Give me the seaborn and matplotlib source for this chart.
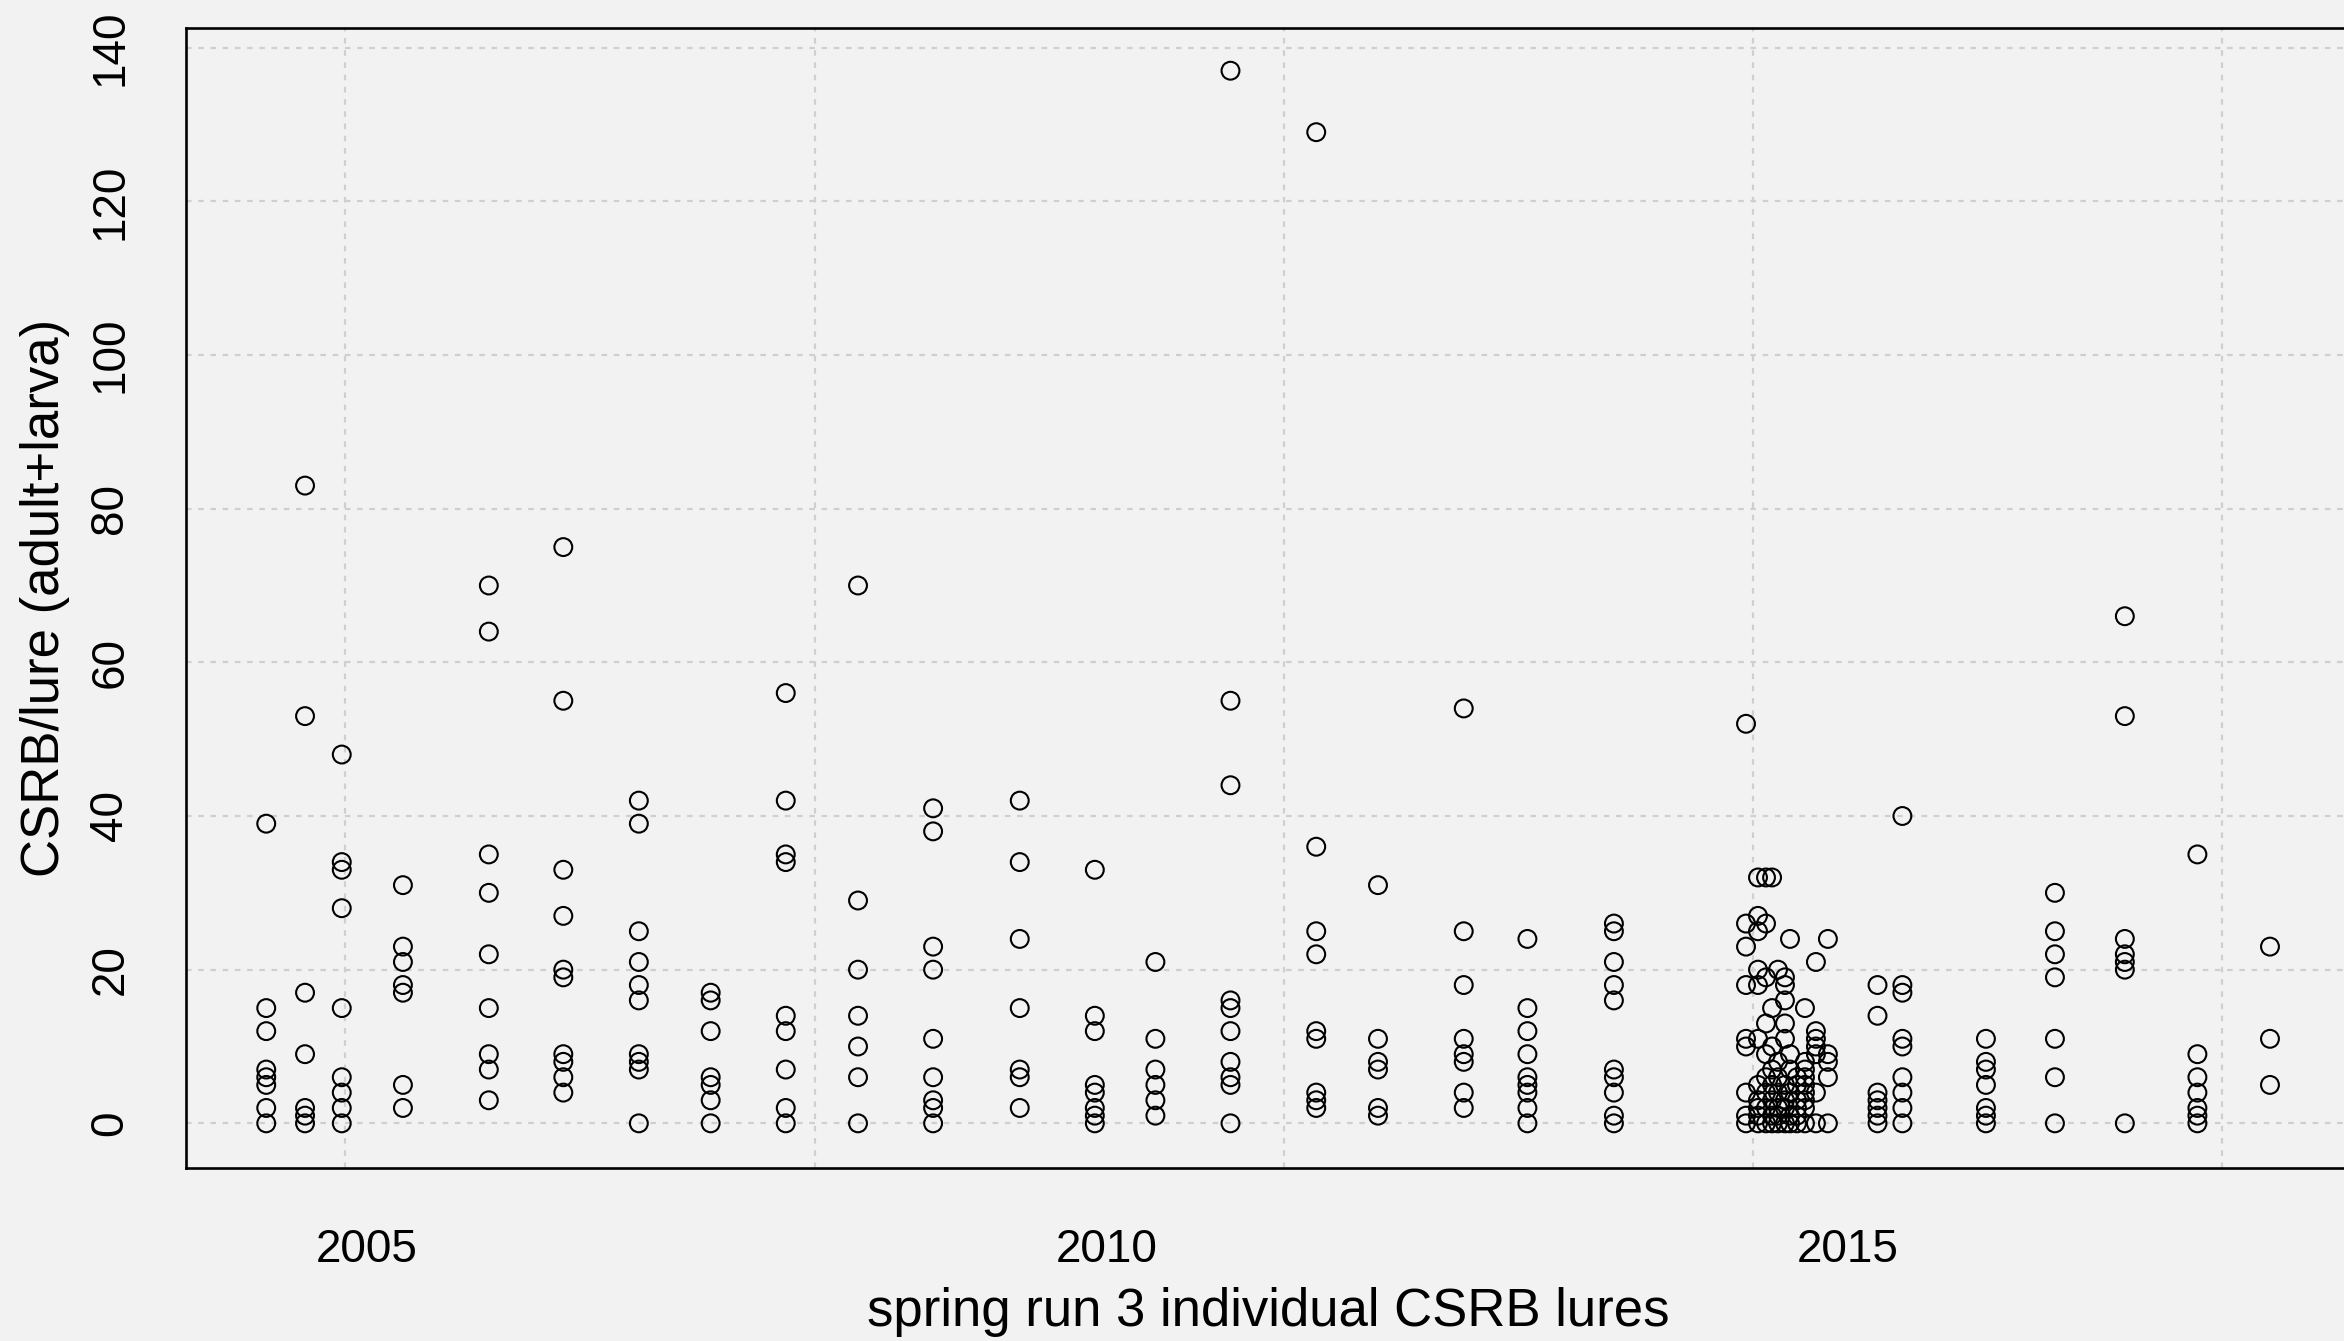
import matplotlib
matplotlib.use("Agg")
import pandas as pd
import matplotlib.pyplot as plt
import seaborn as sns

# --- DATA: sampling dates (decimal year) and CSRB counts per individual lure ---
sample_dates = [
    2004.323, 2004.585, 2004.833, 2005.246, 2005.826, 2006.329, 2006.839,
    2007.324, 2007.831, 2008.319, 2008.826, 2009.411, 2009.918, 2010.327,
    2010.834, 2011.413, 2011.830, 2012.409, 2012.839, 2013.423,
    2014.315, 2014.396, 2014.450, 2014.491, 2014.531, 2014.578, 2014.612,
    2014.659, 2014.713, 2014.787, 2014.868,
    2015.203, 2015.371, 2015.935, 2016.401, 2016.873, 2017.363, 2017.853,
]
lure_counts = [
    [39, 15, 12, 7, 6, 5, 2, 0],
    [83, 53, 17, 9, 2, 1, 0],
    [48, 34, 33, 28, 15, 6, 4, 2, 0],
    [31, 23, 21, 18, 17, 5, 2],
    [70, 64, 35, 30, 22, 15, 9, 7, 3],
    [75, 55, 33, 27, 20, 19, 9, 8, 6, 4],
    [42, 39, 25, 21, 18, 16, 9, 8, 7, 0],
    [17, 16, 12, 6, 5, 3, 0],
    [56, 42, 35, 34, 14, 12, 7, 2, 0],
    [70, 29, 20, 14, 10, 6, 0],
    [41, 38, 23, 20, 11, 6, 3, 2, 0],
    [42, 34, 24, 15, 7, 6, 2],
    [33, 14, 12, 5, 4, 2, 1, 0],
    [21, 11, 7, 5, 3, 1],
    [137, 55, 44, 16, 15, 12, 8, 6, 5, 0],
    [129, 36, 25, 22, 12, 11, 4, 3, 2],
    [31, 11, 8, 7, 2, 1],
    [54, 25, 18, 11, 9, 8, 4, 2],
    [24, 15, 12, 9, 6, 5, 4, 2, 0],
    [26, 25, 21, 18, 16, 7, 6, 4, 1, 0],
    # 2014 weekly run
    [52, 26, 23, 18, 11, 10, 4, 1, 0],
    [32, 27, 25, 20, 18, 11, 5, 3, 2, 1, 0],
    [32, 26, 19, 13, 9, 6, 4, 2, 0],
    [32, 15, 10, 7, 5, 3, 1, 0],
    [20, 8, 6, 4, 2, 1, 0],
    [19, 18, 16, 13, 11, 5, 3, 2, 0],
    [24, 9, 7, 4, 1, 0],
    [6, 5, 3, 2, 1, 0],
    [15, 8, 7, 6, 5, 4, 3, 2, 0],
    [21, 12, 11, 10, 9, 4, 0],
    [24, 9, 8, 6, 0],
    # after 2014
    [18, 14, 4, 3, 2, 1, 0],
    [40, 18, 17, 11, 10, 6, 4, 2, 0],
    [11, 8, 7, 5, 2, 1, 0],
    [30, 25, 22, 19, 11, 6, 0],
    [66, 53, 24, 22, 21, 20, 0],
    [35, 9, 6, 4, 2, 1, 0],
    [23, 11, 5],
]

x_ticks = [2005, 2010, 2015]
y_ticks = [0, 20, 40, 60, 80, 100, 120, 140]

rows = [(d, c) for d, counts in zip(sample_dates, lure_counts) for c in counts]
df = pd.DataFrame(rows, columns=["date", "csrb"])

# --- STYLE (R base graphics look) ---
BG = "#f2f2f2"
sns.set_theme(style="white", rc={"axes.facecolor": BG, "figure.facecolor": BG})
plt.rcParams["font.family"] = ["Liberation Sans", "DejaVu Sans"]

fig = plt.figure(figsize=(23.44, 13.41), dpi=100)
ax = fig.add_axes([0.0794, 0.1292, 0.9232, 0.8497])

# grid: y at ticks, x at pretty() steps of 1e8 seconds (POSIXct axis)
sec_per_year = 365.25 * 86400
for k in range(11, 16):
    ax.axvline(1970 + k * 1e8 / sec_per_year, color="#cfcfcf", lw=1.6,
               ls=(0, (2.5, 3)), zorder=0)
for yv in y_ticks:
    ax.axhline(yv, color="#cfcfcf", lw=1.6, ls=(0, (2.5, 3)), zorder=0)

sns.scatterplot(data=df, x="date", y="csrb", ax=ax, marker="o", s=165,
                facecolors="none", edgecolor="black", linewidth=1.5, zorder=3)

ax.set_xlim(2003.782, 2018.394)
ax.set_ylim(-5.78, 142.52)
ax.set_xticks(x_ticks)
ax.set_xticklabels([str(t) for t in x_ticks])
ax.set_yticks(y_ticks)
ax.set_yticklabels([str(t) for t in y_ticks], rotation=90, va="center")

ax.tick_params(axis="both", direction="out", length=18.7, width=1.9,
               color="black", labelsize=33, labelcolor="black")
ax.tick_params(axis="x", pad=25)
ax.tick_params(axis="y", pad=20)

for sp in ax.spines.values():
    sp.set_visible(True)
    sp.set_color("black")
    sp.set_linewidth(1.9)

ax.set_xlabel("spring run 3 individual CSRB lures", fontsize=38, color="black",
              va="center")
ax.set_ylabel("CSRB/lure (adult+larva)", fontsize=38, color="black",
              va="center", ha="center")
ax.xaxis.set_label_coords(0.5, -0.1265)
ax.yaxis.set_label_coords(-0.0652, 0.5)

plt.savefig("out.png", dpi=100, facecolor=BG)
plt.close()
